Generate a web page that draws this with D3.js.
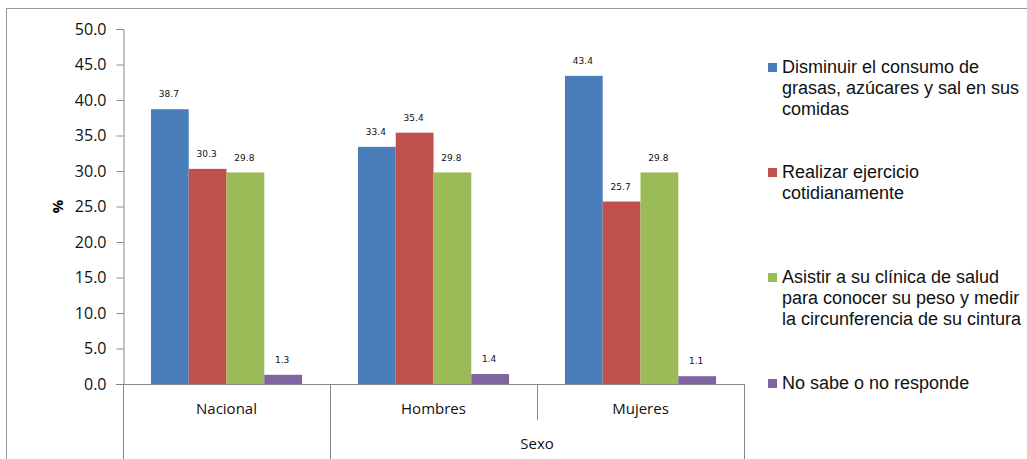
<!DOCTYPE html>
<html>
<head>
<meta charset="utf-8">
<script src="https://cdn.jsdelivr.net/npm/d3@7"></script>
<style>
  body { margin: 0; background: #fff; }
  svg { display: block; }
</style>
</head>
<body>
<svg id="chart" width="1027" height="459"></svg>
<script>
var categories = ["Nacional", "Hombres", "Mujeres"];
var seriesNames = [
  "Disminuir el consumo de grasas, azúcares y sal en sus comidas",
  "Realizar ejercicio cotidianamente",
  "Asistir a su clínica de salud para conocer su peso y medir la circunferencia de su cintura",
  "No sabe o no responde"
];
var legendLines = [
  ["Disminuir el consumo de", "grasas, azúcares y sal en sus", "comidas"],
  ["Realizar ejercicio", "cotidianamente"],
  ["Asistir a su clínica de salud", "para conocer su peso y medir", "la circunferencia de su cintura"],
  ["No sabe o no responde"]
];
var disminuir = [38.7, 33.4, 43.4];
var ejercicio = [30.3, 35.4, 25.7];
var clinica = [29.8, 29.8, 29.8];
var noSabe = [1.3, 1.4, 1.1];
var yTicks = [0, 5, 10, 15, 20, 25, 30, 35, 40, 45, 50];
var colors = ["#4a7ebb", "#c0504d", "#9bbb59", "#8064a2"];

var series = [disminuir, ejercicio, clinica, noSabe];

var svg = d3.select("#chart");
var axisColor = "#888";

// outer frame (only top and left edges show)
svg.append("rect")
  .attr("x", 6.5).attr("y", 8.5)
  .attr("width", 1040).attr("height", 470)
  .attr("fill", "none").attr("stroke", "#999").attr("stroke-width", 1);

var plotLeft = 123, plotRight = 744, plotTop = 29, plotBottom = 384;

var y = d3.scaleLinear().domain([0, 50]).range([plotBottom, plotTop]);
var x0 = d3.scaleBand().domain(categories).range([plotLeft, plotRight])
  .paddingInner(0).paddingOuter(0);
var x1 = d3.scaleBand().domain(d3.range(series.length))
  .range([0, x0.bandwidth()]).paddingOuter(0.74).paddingInner(0);

// y axis
var yAxis = svg.append("g")
  .attr("transform", "translate(" + (plotLeft + 0.5) + ",0)")
  .call(d3.axisLeft(y).tickValues(yTicks).tickSize(7).tickPadding(10)
    .tickFormat(d3.format(".1f")));
yAxis.select(".domain").attr("stroke", axisColor);
yAxis.selectAll(".tick line").attr("stroke", axisColor);
yAxis.selectAll(".tick text")
  .attr("font-family", "'Open Sans', 'Noto Sans', sans-serif")
  .attr("font-size", 16).attr("fill", "#111");

svg.append("text")
  .attr("transform", "translate(58," + y(25) + ") rotate(-90)")
  .attr("text-anchor", "middle").attr("dy", "0.35em")
  .attr("font-family", "'Open Sans', sans-serif")
  .attr("font-weight", "bold").attr("font-size", 15)
  .text("%");

// bars
var groups = svg.append("g").selectAll("g")
  .data(categories).enter().append("g")
  .attr("transform", function (d) { return "translate(" + x0(d) + ",0)"; });

series.forEach(function (vals, si) {
  groups.append("rect")
    .attr("x", function (d, ci) { return x1(si); })
    .attr("y", function (d, ci) { return y(vals[ci]); })
    .attr("width", x1.bandwidth())
    .attr("height", function (d, ci) { return plotBottom - y(vals[ci]); })
    .attr("fill", colors[si]);
  groups.append("text")
    .attr("x", function (d, ci) { return x1(si) + x1.bandwidth() / 2 - 1; })
    .attr("y", function (d, ci) { return y(vals[ci]) - 15; })
    .attr("dy", "0.35em")
    .attr("text-anchor", "middle")
    .attr("font-family", "'DejaVu Sans', Verdana, sans-serif")
    .attr("font-size", 9).attr("fill", "#111")
    .text(function (d, ci) { return vals[ci].toFixed(1); });
});

// category axis baseline
svg.append("line")
  .attr("x1", plotLeft - 7).attr("x2", plotRight)
  .attr("y1", plotBottom + 0.5).attr("y2", plotBottom + 0.5)
  .attr("stroke", axisColor);

// separators: outer group lines reach the bottom, inner one is short
var boundaries = [plotLeft, x0("Hombres"), x0("Mujeres"), plotRight];
boundaries.forEach(function (bx, i) {
  svg.append("line")
    .attr("x1", Math.round(bx) + 0.5).attr("x2", Math.round(bx) + 0.5)
    .attr("y1", plotBottom).attr("y2", i === 2 ? 420 : 459)
    .attr("stroke", axisColor);
});

svg.append("g").selectAll("text")
  .data(categories).enter().append("text")
  .attr("x", function (d) { return x0(d) + x0.bandwidth() / 2; })
  .attr("y", 409).attr("dy", "0.35em")
  .attr("text-anchor", "middle")
  .attr("font-family", "'Open Sans', 'Noto Sans', sans-serif")
  .attr("font-size", 15).attr("fill", "#111")
  .text(function (d) { return d; });

svg.append("text")
  .attr("x", (x0("Hombres") + plotRight) / 2)
  .attr("y", 444).attr("dy", "0.35em")
  .attr("text-anchor", "middle")
  .attr("font-family", "'Open Sans', 'Noto Sans', sans-serif")
  .attr("font-size", 15).attr("fill", "#111")
  .text("Sexo");

// legend
var legendTops = [67, 172, 277, 383];
var legend = svg.append("g");
seriesNames.forEach(function (name, i) {
  var g = legend.append("g").attr("transform", "translate(768," + legendTops[i] + ")");
  g.append("rect").attr("x", 0).attr("y", -4).attr("width", 9).attr("height", 9)
    .attr("fill", colors[i]);
  g.selectAll("text").data(legendLines[i]).enter().append("text")
    .attr("x", 14)
    .attr("y", function (d, k) { return k * 21; })
    .attr("dy", "0.35em")
    .attr("font-family", "'Liberation Sans', Arial, sans-serif")
    .attr("font-size", 18).attr("fill", "#111")
    .text(function (d) { return d; });
});
</script>
</body>
</html>
